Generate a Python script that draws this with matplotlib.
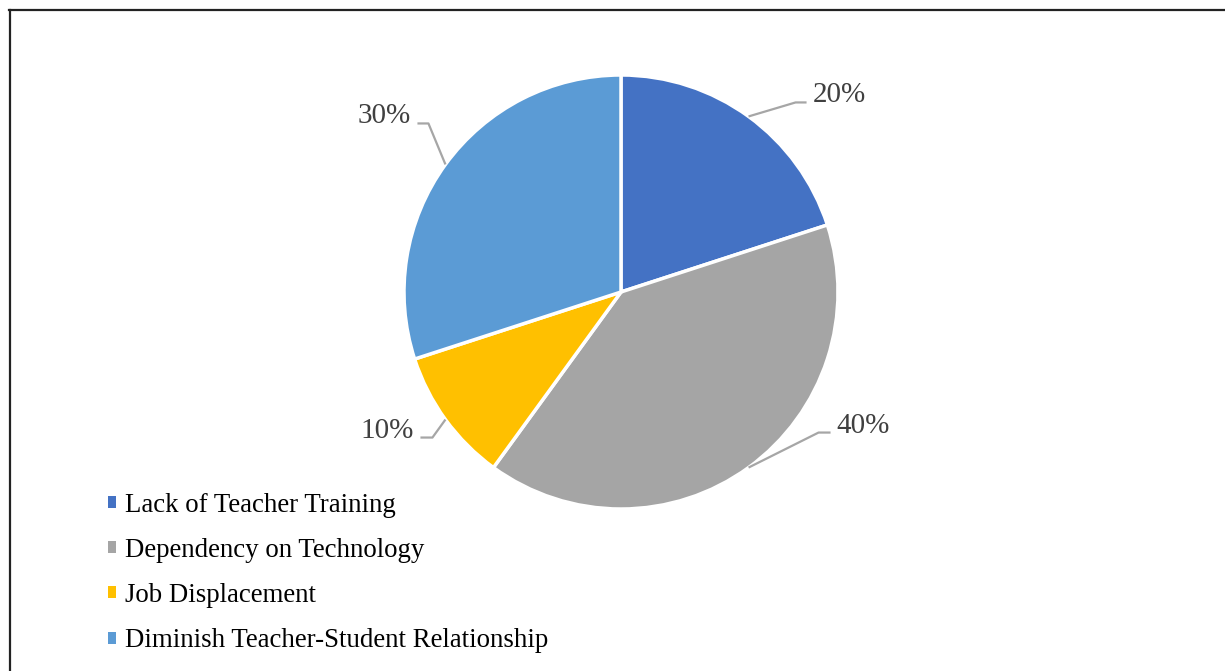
import matplotlib.pyplot as plt
from matplotlib.lines import Line2D
import numpy as np

plt.rcParams['font.family'] = ['Liberation Serif', 'DejaVu Serif']

categories = ['Lack of Teacher Training', 'Dependency on Technology',
              'Job Displacement', 'Diminish Teacher-Student Relationship']
shares = [20, 40, 10, 30]
colors = ['#4472C4', '#A5A5A5', '#FFC000', '#5B9BD5']

# leader line layout per slice: elbow offset from wedge edge (px), horizontal run (px)
elbow = [(47, 14), (70, 35), (-13, -18), (-17, 41)]
run = [11, 12, -12, -11]

W, H = 1225, 671
fig = plt.figure(figsize=(W / 100, H / 100), dpi=100)
ax = fig.add_axes([0, 0, 1, 1])

cx, cy, r = 621, H - 292, 217
wedges, _ = ax.pie(shares, colors=colors, startangle=90, counterclock=False,
                   center=(cx, cy), radius=r, frame=True,
                   wedgeprops=dict(edgecolor='white', linewidth=2.5))
ax.set_xlim(0, W)
ax.set_ylim(0, H)
ax.axis('off')

for w, v, (dx, dy), L in zip(wedges, shares, elbow, run):
    mid = np.deg2rad((w.theta1 + w.theta2) / 2)
    x0, y0 = cx + r * np.cos(mid), cy + r * np.sin(mid)
    x1, y1 = x0 + dx, y0 + dy
    x2 = x1 + L
    ax.plot([x0, x1, x2], [y0, y1, y1], color='#A6A6A6', lw=1.6,
            solid_capstyle='butt')
    ha = 'left' if L > 0 else 'right'
    tx = x2 + (6 if L > 0 else -7)
    ax.text(tx, y1 + 7, f'{v}%', ha=ha, va='center', fontsize=21,
            color='#404040')

leg = ax.legend(wedges, categories, loc='center left',
                bbox_to_anchor=(108 / W, 1 - 573 / H), bbox_transform=fig.transFigure,
                frameon=False, fontsize=19.4, handlelength=0.3, handleheight=0.3,
                handletextpad=0.33, labelspacing=0.75, borderpad=0, borderaxespad=0)
for h in leg.legend_handles:
    h.set_edgecolor('none')

fig.add_artist(Line2D([9.5 / W, 9.5 / W], [0, 1 - 10 / H], color='#222222', lw=1.6,
                      transform=fig.transFigure))
fig.add_artist(Line2D([9 / W, 1], [1 - 10 / H, 1 - 10 / H], color='#222222', lw=1.6,
                      transform=fig.transFigure))

fig.savefig('out.png', dpi=100, facecolor='white')
